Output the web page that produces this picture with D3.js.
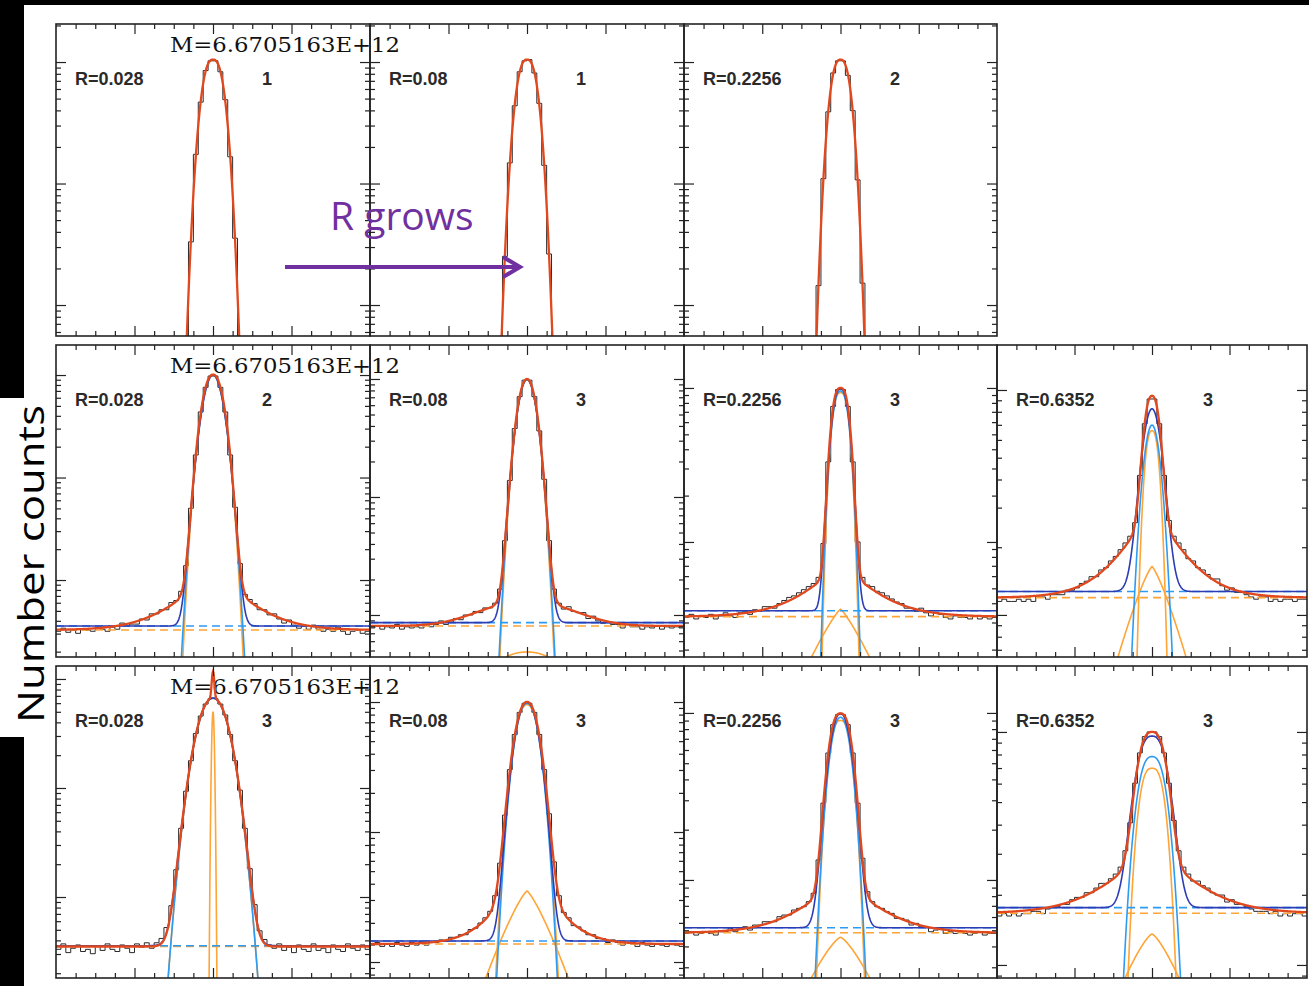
<!DOCTYPE html>
<html><head><meta charset="utf-8">
<script src="https://cdn.jsdelivr.net/npm/d3@7"></script>
<style>
html,body{margin:0;padding:0;background:#fff;}
svg{display:block;}
</style></head>
<body>
<svg id="chart" width="1309" height="986"></svg>
<script>
// ---- labels ----
const massLabel = "M=6.6705163E+12";
const radiusLabels = ["R=0.028", "R=0.08", "R=0.2256", "R=0.6352"];
// number of fitted components per panel (row-major, 4 columns; null = empty slot)
const nComp = [1, 1, 2, null, 2, 3, 3, 3, 3, 3, 3, 3];

// ---- y ranges (log10 of number counts) ----
const logLo = [2.745, 2.745, 2.745, null, 2.249, 2.644, 3.253, 3.813, 2.257, 2.877, 3.413, 3.944];
const logHi = [5.313, 5.313, 5.313, null, 5.293, 5.288, 5.279, 5.200, 5.119, 5.277, 5.281, 5.283];

// ---- fitted components: log10 peak, width (x at one decade drop), shape exponent ----
const narrowLog = [5.02, 5.02, 5.02, null, 5.0, 4.994, 4.969, 4.819, 4.70, 4.98, 4.955, 4.844];
const narrowW   = [0.96, 0.93, 0.88, null, 0.97, 0.92, 0.78, 0.77, 0.127, 1.14, 1.04, 1.287];
const narrowP   = [2.5, 2.5, 2.5, null, 2.2, 2.1, 2.8, 2.5, 2.0, 2.2, 2.6, 2.84];
const broadLog  = [null, null, null, null, 2.87, 2.686, 3.563, 4.215, 4.823, 3.546, 3.657, 4.133];
const broadW    = [null, null, null, null, 3.82, 4.5, 3.93, 3.64, 1.46, 2.9, 4.27, 4.87];
const broadP    = [null, null, null, null, 1.25, 2.2, 1.2, 1.25, 2.1, 1.25, 1.34, 1.33];
const gaussLog  = [null, null, null, null, 5.0, 4.994, 4.98, 4.844, 4.823, 4.99, 4.974, 4.894];
const gaussW    = [null, null, null, null, 0.97, 0.93, 0.81, 1.035, 1.46, 1.1, 1.06, 1.5];
const gaussP    = [null, null, null, null, 2.0, 2.0, 2.45, 2.0, 2.1, 2.2, 2.2, 2.6];
const bgRedLog  = [0, 0, 0, null, 2.512, 2.907, 3.515, 4.077, 2.546, 3.138, 3.684, 4.222];
const bgBlueLog = [null, null, null, null, 2.551, 2.935, 3.553, 4.104, 2.553, 3.162, 3.714, 4.246];

// ---- histograms: log10 counts in 64 bins over [-8, 8] ----
const histR1C1 = [0,0,0,0,0,0,0,0,0,0,0,0,0,0,0,0,0,0,0,0,0,0,0,0,0,1.29,2.57,3.52,4.24,4.67,4.93,5.01,
  5.01,4.92,4.69,4.22,3.55,2.55,1.28,0,0,0,0,0,0,0,0,0,0,0,0,0,0,0,0,0,0,0,0,0,0,0,0,0];
const histR1C2 = [0,0,0,0,0,0,0,0,0,0,0,0,0,0,0,0,0,0,0,0,0,0,0,0,0,0.98,2.37,3.40,4.17,4.64,4.92,5.01,
  5.02,4.91,4.66,4.15,3.42,2.35,0.99,0,0,0,0,0,0,0,0,0,0,0,0,0,0,0,0,0,0,0,0,0,0,0,0,0];
const histR1C3 = [0,0,0,0,0,0,0,0,0,0,0,0,0,0,0,0,0,0,0,0,0,0,0,0,0,0.40,1.97,3.16,4.04,4.59,4.91,5.01,
  5.01,4.89,4.60,4.03,3.18,1.96,0.40,0,0,0,0,0,0,0,0,0,0,0,0,0,0,0,0,0,0,0,0,0,0,0,0,0];
const histR2C1 = [2.50,2.53,2.49,2.51,2.48,2.52,2.51,2.50,2.54,2.52,2.50,2.54,2.52,2.58,2.55,2.57,2.57,2.62,2.61,2.67,2.67,2.71,2.71,2.78,2.80,2.89,3.14,3.70,4.22,4.64,4.88,4.99,
  4.99,4.88,4.64,4.22,3.71,3.16,2.86,2.81,2.77,2.71,2.71,2.66,2.67,2.62,2.58,2.61,2.56,2.53,2.55,2.52,2.56,2.52,2.50,2.52,2.50,2.54,2.50,2.47,2.50,2.51,2.48,2.50];
const histR2C2 = [2.89,2.91,2.88,2.90,2.89,2.92,2.88,2.90,2.89,2.90,2.89,2.92,2.90,2.92,2.95,2.92,2.94,2.97,2.96,3.00,3.00,3.03,3.02,3.06,3.06,3.10,3.22,3.63,4.14,4.58,4.85,4.99,
  4.99,4.85,4.56,4.15,3.63,3.22,3.10,3.05,3.07,3.03,3.02,3.02,2.97,2.99,2.95,2.93,2.94,2.92,2.92,2.89,2.92,2.90,2.90,2.88,2.90,2.89,2.91,2.88,2.90,2.89,2.90,2.89];
const histR2C3 = [3.51,3.53,3.50,3.52,3.51,3.53,3.50,3.52,3.54,3.52,3.51,3.54,3.55,3.53,3.56,3.55,3.58,3.58,3.57,3.60,3.62,3.64,3.65,3.67,3.69,3.71,3.73,3.77,3.99,4.52,4.88,4.99,
  4.99,4.88,4.52,4.00,3.77,3.72,3.71,3.68,3.67,3.65,3.63,3.61,3.60,3.57,3.57,3.55,3.57,3.54,3.52,3.54,3.53,3.51,3.50,3.52,3.51,3.51,3.50,3.52,3.50,3.51,3.50,3.51];
const histR2C4 = [4.06,4.07,4.06,4.06,4.07,4.06,4.07,4.06,4.08,4.08,4.07,4.09,4.09,4.09,4.11,4.11,4.12,4.14,4.15,4.17,4.17,4.20,4.21,4.24,4.26,4.29,4.32,4.35,4.41,4.62,4.85,4.96,
  4.96,4.85,4.62,4.42,4.35,4.32,4.29,4.25,4.24,4.21,4.20,4.18,4.16,4.16,4.13,4.11,4.12,4.10,4.10,4.09,4.08,4.07,4.08,4.08,4.06,4.07,4.06,4.07,4.07,4.06,4.07,4.07];
const histR3C1 = [2.52,2.57,2.49,2.53,2.56,2.50,2.52,2.48,2.55,2.51,2.57,2.52,2.50,2.56,2.53,2.49,2.57,2.54,2.58,2.53,2.58,2.62,2.72,2.92,3.25,3.63,3.97,4.25,4.50,4.66,4.77,4.82,
  4.82,4.77,4.67,4.49,4.25,3.98,3.63,3.26,2.93,2.69,2.61,2.56,2.53,2.57,2.51,2.54,2.49,2.56,2.52,2.50,2.57,2.51,2.53,2.49,2.56,2.52,2.50,2.57,2.53,2.51,2.56,2.52];
const histR3C2 = [3.13,3.15,3.12,3.14,3.12,3.15,3.13,3.12,3.15,3.13,3.16,3.13,3.15,3.15,3.17,3.16,3.19,3.19,3.21,3.21,3.25,3.26,3.30,3.34,3.39,3.51,3.76,4.13,4.48,4.75,4.92,4.99,
  4.99,4.92,4.75,4.48,4.14,3.77,3.51,3.38,3.34,3.28,3.27,3.24,3.21,3.21,3.18,3.18,3.15,3.17,3.15,3.13,3.15,3.14,3.12,3.15,3.13,3.12,3.14,3.13,3.12,3.14,3.13,3.12];
const histR3C3 = [3.68,3.69,3.67,3.68,3.69,3.68,3.67,3.69,3.69,3.71,3.69,3.71,3.72,3.70,3.73,3.73,3.75,3.75,3.75,3.78,3.79,3.79,3.82,3.83,3.84,3.87,3.92,4.12,4.46,4.76,4.93,4.99,
  4.99,4.93,4.76,4.46,4.13,3.93,3.87,3.84,3.83,3.81,3.80,3.77,3.77,3.76,3.73,3.74,3.72,3.72,3.69,3.70,3.71,3.68,3.69,3.68,3.69,3.68,3.67,3.68,3.69,3.67,3.68,3.68];
const histR3C4 = [4.21,4.22,4.21,4.22,4.21,4.22,4.22,4.23,4.23,4.22,4.24,4.25,4.25,4.26,4.26,4.28,4.29,4.29,4.31,4.31,4.33,4.35,4.35,4.37,4.39,4.42,4.49,4.61,4.78,4.91,4.98,5.00,
  5.00,4.98,4.91,4.78,4.62,4.49,4.42,4.39,4.36,4.36,4.34,4.33,4.31,4.30,4.30,4.27,4.28,4.26,4.26,4.25,4.24,4.23,4.23,4.23,4.22,4.23,4.21,4.22,4.21,4.22,4.22,4.21];
const histograms = [histR1C1, histR1C2, histR1C3, null, histR2C1, histR2C2, histR2C3, histR2C4,
                    histR3C1, histR3C2, histR3C3, histR3C4];

// ---- layout ----
const W = 1309, H = 986;
const colLeft = [56, 370, 684, 997, 1307];
const rowTop = [24, 345, 666];
const panelH = 312;
const C = {red: "#e1481d", blue: "#2b3cb5", sky: "#2e9bf2", orange: "#ffa436", hist: "#2a2a2a", axis: "#222", purple: "#7030a0"};

const svg = d3.select("#chart");
const defs = svg.append("defs");

// page border strips
svg.append("rect").attr("x", 0).attr("y", 0).attr("width", W).attr("height", 5).attr("fill", "#000");
svg.append("rect").attr("x", 0).attr("y", 0).attr("width", 24).attr("height", 398).attr("fill", "#000");
svg.append("rect").attr("x", 0).attr("y", 737).attr("width", 24).attr("height", H - 737).attr("fill", "#000");

const xGrid = d3.range(-8, 8.0001, 0.02);
const binEdges = d3.range(65).map(k => -8 + 0.25 * k);
const peakFn = (L, w, p) => (xv => L - Math.pow(Math.abs(xv) / w, p));
const logSum = arr => Math.log10(d3.sum(arr.filter(v => v != null), v => Math.pow(10, v)));

function drawPanel(i, r, c) {
  const x0 = colLeft[c], x1 = colLeft[c + 1], y0 = rowTop[r], y1 = y0 + panelH;
  const lo = logLo[i], hi = logHi[i];
  const x = d3.scaleLinear().domain([-8, 8]).range([x0, x1]);
  const y = d3.scaleLog().domain([Math.pow(10, lo), Math.pow(10, hi)]).range([y1, y0]);
  const py = L => y(Math.pow(10, Math.max(L, lo - 1)));
  const g = svg.append("g");

  if (c === 0) {
    g.append("text").attr("x", 170).attr("y", y0 + 28)
      .attr("font-family", "DejaVu Serif").attr("font-size", 20)
      .attr("textLength", 230).attr("lengthAdjust", "spacingAndGlyphs")
      .attr("fill", "#111").text(massLabel);
  }

  const clipId = "clip" + i;
  defs.append("clipPath").attr("id", clipId).append("rect")
    .attr("x", x0).attr("y", y0).attr("width", x1 - x0).attr("height", panelH);
  const plot = g.append("g").attr("clip-path", `url(#${clipId})`);
  const line = d3.line().x(d => x(d[0])).y(d => py(d[1]));

  // data histogram
  const h = histograms[i];
  const hPts = h.map((v, k) => [binEdges[k], v]).concat([[binEdges[64], h[63]]]);
  plot.append("path").attr("d", d3.line().curve(d3.curveStepAfter).x(d => x(d[0])).y(d => py(d[1]))(hPts))
    .attr("fill", "none").attr("stroke", C.hist).attr("stroke-width", 1.0);

  const narrow = peakFn(narrowLog[i], narrowW[i], narrowP[i]);
  const broad = broadLog[i] == null ? null : peakFn(broadLog[i], broadW[i], broadP[i]);
  const gauss = gaussLog[i] == null ? null : peakFn(gaussLog[i], gaussW[i], gaussP[i]);

  if (nComp[i] >= 3 && broad) {
    plot.append("path").attr("d", line(xGrid.map(v => [v, broad(v)])))
      .attr("fill", "none").attr("stroke", C.orange).attr("stroke-width", 1.6);
  }
  if (nComp[i] >= 2 && bgBlueLog[i] != null) {
    plot.append("path").attr("d", line(xGrid.map(v => [v, narrow(v)])))
      .attr("fill", "none").attr("stroke", C.orange).attr("stroke-width", 1.6);
    plot.append("line").attr("x1", x0).attr("x2", x1)
      .attr("y1", py(bgRedLog[i])).attr("y2", py(bgRedLog[i]))
      .attr("stroke", C.orange).attr("stroke-width", 1.6).attr("stroke-dasharray", "8,5");
    plot.append("line").attr("x1", x0).attr("x2", x1)
      .attr("y1", py(bgBlueLog[i])).attr("y2", py(bgBlueLog[i]))
      .attr("stroke", C.sky).attr("stroke-width", 1.6).attr("stroke-dasharray", "8,5");
    plot.append("path").attr("d", line(xGrid.map(v => [v, gauss(v)])))
      .attr("fill", "none").attr("stroke", C.sky).attr("stroke-width", 1.6);
    plot.append("path").attr("d", line(xGrid.map(v => [v, logSum([bgBlueLog[i], gauss(v)])])))
      .attr("fill", "none").attr("stroke", C.blue).attr("stroke-width", 1.6);
  }
  // total model
  plot.append("path").attr("d", line(xGrid.map(v => [v, logSum([bgRedLog[i], narrow(v), broad ? broad(v) : null])])))
    .attr("fill", "none").attr("stroke", C.red).attr("stroke-width", 2.3);

  // axes: inward ticks on all four sides
  const xMinor = d3.range(-7, 8).filter(v => v % 4 !== 0);
  const xMajor = [-4, 0, 4];
  const yt = y.ticks();
  const isDecade = v => Math.abs(Math.log10(v) - Math.round(Math.log10(v))) < 1e-6;
  const yMajor = yt.filter(isDecade), yMinor = yt.filter(v => !isDecade(v));
  const axes = [
    [d3.axisTop(x), `translate(0,${y1})`, xMinor, xMajor],
    [d3.axisBottom(x), `translate(0,${y0})`, xMinor, xMajor],
    [d3.axisRight(y), `translate(${x0},0)`, yMinor, yMajor],
    [d3.axisLeft(y), `translate(${x1},0)`, yMinor, yMajor]
  ];
  axes.forEach(([ax, tr, minor, major]) => {
    [[minor, 5], [major, 10]].forEach(([vals, len]) => {
      const a = g.append("g").attr("transform", tr)
        .call(ax.tickValues(vals).tickSize(len).tickSizeOuter(0).tickFormat(""));
      a.select(".domain").remove();
      a.selectAll("line").attr("stroke", C.axis).attr("stroke-width", 1.2);
    });
  });
  g.append("rect").attr("x", x0).attr("y", y0).attr("width", x1 - x0).attr("height", panelH)
    .attr("fill", "none").attr("stroke", C.axis).attr("stroke-width", 1.6);

  g.append("text").attr("x", x0 + 19).attr("y", y0 + 61)
    .attr("font-family", "Liberation Sans, Arial, sans-serif").attr("font-weight", "bold")
    .attr("font-size", 18).attr("fill", "#2a2a2a").text(radiusLabels[c]);
  g.append("text").attr("x", x0 + 211).attr("y", y0 + 61).attr("text-anchor", "middle")
    .attr("font-family", "Liberation Sans, Arial, sans-serif").attr("font-weight", "bold")
    .attr("font-size", 18).attr("fill", "#2a2a2a").text(nComp[i]);
}

for (let r = 0; r < 3; r++) {
  for (let c = 0; c < 4; c++) {
    const i = r * 4 + c;
    if (nComp[i] == null) continue;
    drawPanel(i, r, c);
  }
}

// axis title
svg.append("text").attr("transform", "translate(44,564) rotate(-90)")
  .attr("text-anchor", "middle").attr("font-family", "Open Sans, sans-serif")
  .attr("font-size", 36).attr("textLength", 318).attr("lengthAdjust", "spacingAndGlyphs")
  .attr("fill", "#000").text("Number counts");

// annotation
svg.append("text").attr("x", 330).attr("y", 230)
  .attr("font-family", "Open Sans, sans-serif").attr("font-size", 39)
  .attr("fill", C.purple).text("R grows");
svg.append("line").attr("x1", 285).attr("x2", 518).attr("y1", 267).attr("y2", 267)
  .attr("stroke", C.purple).attr("stroke-width", 4);
svg.append("path").attr("d", "M503,257 L520,267 L503,277")
  .attr("fill", "none").attr("stroke", C.purple).attr("stroke-width", 4)
  .attr("stroke-linejoin", "miter");
</script>
</body></html>
